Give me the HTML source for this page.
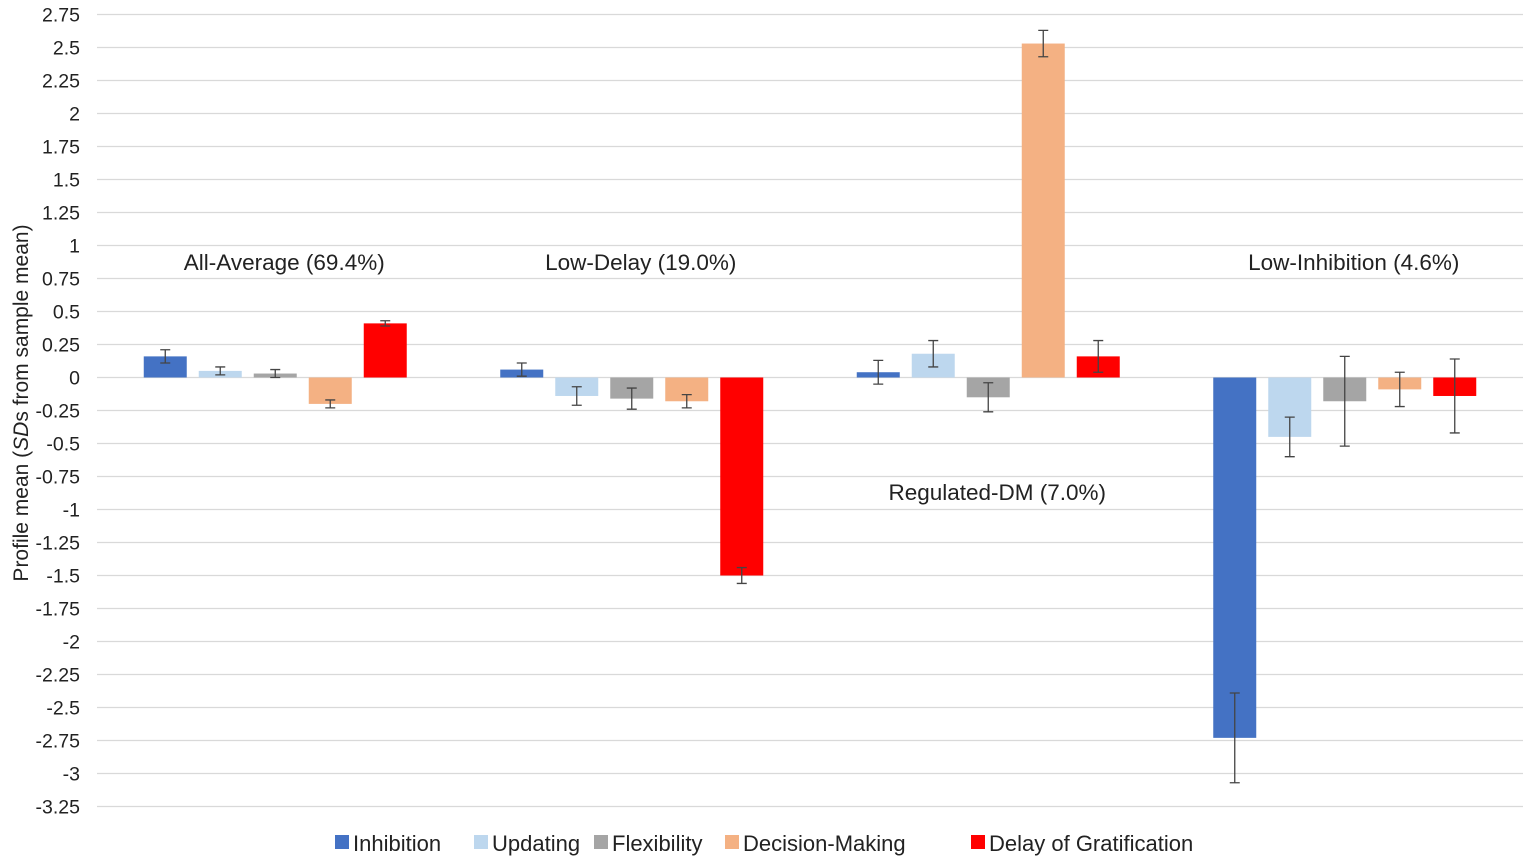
<!DOCTYPE html>
<html><head><meta charset="utf-8"><style>
body{margin:0;background:#fff;font-family:"Liberation Sans",Arial,sans-serif}
svg text{font-family:"Liberation Sans",Arial,sans-serif;fill:#222}
</style></head><body>
<svg id="c" width="1535" height="863"></svg>
<script>
const categories=["All-Average (69.4%)","Low-Delay (19.0%)","Regulated-DM (7.0%)","Low-Inhibition (4.6%)"];
const series=["Inhibition","Updating","Flexibility","Decision-Making","Delay of Gratification"];
const colors=["#4472c4","#bdd7ee","#a5a5a5","#f4b183","#ff0000"];
const inhibition=[0.16,0.06,0.04,-2.73];
const updating=[0.05,-0.14,0.18,-0.45];
const flexibility=[0.03,-0.16,-0.15,-0.18];
const decision=[-0.2,-0.18,2.53,-0.09];
const delay=[0.41,-1.5,0.16,-0.14];
const errInhibition=[0.05,0.05,0.09,0.34];
const errUpdating=[0.03,0.07,0.1,0.15];
const errFlexibility=[0.03,0.08,0.11,0.34];
const errDecision=[0.03,0.05,0.1,0.13];
const errDelay=[0.02,0.06,0.12,0.28];
const ticks=[2.75,2.5,2.25,2,1.75,1.5,1.25,1,0.75,0.5,0.25,0,-0.25,-0.5,-0.75,-1,-1.25,-1.5,-1.75,-2,-2.25,-2.5,-2.75,-3,-3.25];
const labelY=[262,262,492,262];
const vals=[inhibition,updating,flexibility,decision,delay];
const errs=[errInhibition,errUpdating,errFlexibility,errDecision,errDelay];
const NS="http://www.w3.org/2000/svg",svg=document.getElementById('c');
const L=97,R=1523,y=v=>377.5-v*132;
function el(t,a,txt){const e=document.createElementNS(NS,t);for(const k in a)e.setAttribute(k,a[k]);if(txt!=null)e.textContent=txt;svg.appendChild(e);return e;}
ticks.forEach(t=>{
 const g=el('line',{x1:L,x2:R,y1:y(t),y2:y(t),stroke:'#d9d9d9','stroke-width':1.3});
 
 
 const tx=el('text',{x:80,y:y(t)+7,'text-anchor':'end','font-size':19.5},String(t));
 
 
});
const gw=(R-L)/categories.length,step=55,bw=43;
categories.forEach((c,i)=>{
 const cx=L+gw*(i+0.5);
 vals.forEach((s,j)=>{
  const x=cx+(j-2)*step-bw/2,v=s[i];
  const r=el('rect',{x:x,y:Math.min(y(0),y(v)),width:bw,height:Math.abs(y(v)-y(0)),fill:colors[j]});
  
  
  const e=errs[j][i],bx=x+bw/2;
  const p=el('path',{d:`M${bx},${y(v+e)}V${y(v-e)}M${bx-5},${y(v+e)}h10M${bx-5},${y(v-e)}h10`,stroke:'#444','stroke-width':1.3,fill:'none'});
  
  
 });
 const t=el('text',{x:cx+9,y:labelY[i]+8,'text-anchor':'middle','font-size':22.5},c);
 
 
});
const yt=el('text',{transform:'translate(28,403) rotate(-90)','text-anchor':'middle','font-size':21});
yt.innerHTML='Profile mean (<tspan font-style="italic">SD</tspan>s from sample mean)';


const lx=[335,474,594,725,971];
series.forEach((s,j)=>{
 const r=el('rect',{x:lx[j],y:835,width:14,height:14,fill:colors[j]});
 
 
 const t=el('text',{x:lx[j]+18,y:851,'font-size':22},s);
 
 
});
</script>
</body></html>
